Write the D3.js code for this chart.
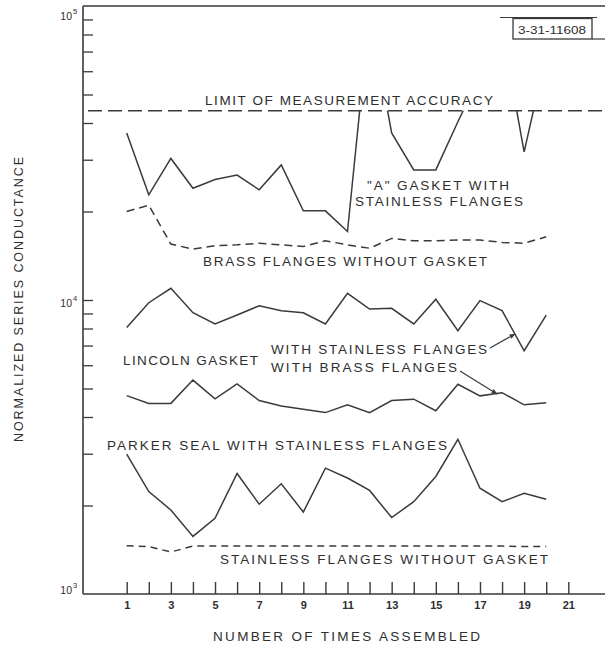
<!DOCTYPE html>
<html>
<head>
<meta charset="utf-8">
<script src="https://cdn.jsdelivr.net/npm/d3@7"></script>
<style>
  html, body { margin: 0; padding: 0; background: #fff; }
  svg { display: block; }
  text { font-family: "Liberation Sans", Arial, sans-serif; fill: #2e2e2e; }
</style>
</head>
<body>
<svg id="chart" width="605" height="647"></svg>
<script>
// ---------------- data ----------------
const assemblies = [1, 2, 3, 4, 5, 6, 7, 8, 9, 10, 11, 12, 13, 14, 15, 16, 17, 18, 19, 20];
const xTickValues = [1, 2, 3, 4, 5, 6, 7, 8, 9, 10, 11, 12, 13, 14, 15, 16, 17, 18, 19, 20, 21];
const xTickLabels = ["1", "", "3", "", "5", "", "7", "", "9", "", "11", "", "13", "", "15", "", "17", "", "19", "", "21"];
const yMinorTicks = [2000, 3000, 4000, 5000, 6000, 7000, 8000, 9000, 10000, 20000, 30000, 40000, 50000, 60000, 70000, 80000, 90000];
const yMajorTicks = [1000, 10000, 100000];
const yMajorExponents = ["3", "4", "5"];

const limitOfAccuracy = 44000;
// values beyond the limit are off scale (clipped at the limit line)
const aGasketStainless = [37000, 22800, 30300, 24000, 25700, 26600, 23700, 28800, 20100, 20100, 17100, 95000, 37000, 27700, 27700, 40400, 58000, 83000, 31900, 68700];
const brassNoGasket = [20000, 21000, 15500, 14900, 15300, 15400, 15600, 15400, 15200, 15900, 15400, 15000, 16200, 15900, 15900, 16000, 16000, 15700, 15600, 16400];
const lincolnStainless = [8070, 9790, 10960, 9050, 8290, 8890, 9560, 9200, 9050, 8290, 10540, 9320, 9370, 8290, 10060, 7860, 9950, 9200, 6720, 8890];
const lincolnBrass = [4730, 4450, 4450, 5340, 4610, 5180, 4550, 4360, 4250, 4140, 4400, 4140, 4550, 4600, 4200, 5170, 4720, 4840, 4400, 4470];
const parkerStainless = [2990, 2230, 1930, 1570, 1810, 2570, 2020, 2370, 1900, 2680, 2480, 2250, 1820, 2060, 2510, 3360, 2290, 2060, 2200, 2100];
const stainlessNoGasket = [1460, 1450, 1390, 1455, 1455, 1455, 1455, 1455, 1455, 1455, 1455, 1455, 1455, 1455, 1455, 1455, 1455, 1455, 1450, 1450];

const xTitle = "NUMBER OF TIMES ASSEMBLED";
const yTitle = "NORMALIZED SERIES CONDUCTANCE";
const stampText = "3-31-11608";

// ---------------- layout ----------------
const frame = { left: 83, top: 6, right: 605, bottom: 594 };
const ink = "#3a3a3a";
const svg = d3.select("#chart");

const x = d3.scaleLinear().domain([1, 21]).range([126.7, 568.3]);
const y = d3.scaleLog().domain([1000, 100000]).range([frame.bottom, frame.top]);

// frame lines (top border, left axis, bottom axis)
svg.append("line").attr("x1", frame.left).attr("x2", frame.right)
  .attr("y1", frame.top).attr("y2", frame.top)
  .attr("stroke", ink).attr("stroke-width", 1.4);
svg.append("line").attr("x1", frame.left).attr("x2", frame.left)
  .attr("y1", frame.top).attr("y2", frame.bottom)
  .attr("stroke", ink).attr("stroke-width", 1.6);
svg.append("line").attr("x1", frame.left).attr("x2", frame.right)
  .attr("y1", frame.bottom).attr("y2", frame.bottom)
  .attr("stroke", ink).attr("stroke-width", 1.6);

// x axis ticks (pointing up, inside)
const xAxis = d3.axisBottom(x).tickValues(xTickValues)
  .tickSizeInner(-12).tickSizeOuter(0).tickPadding(7)
  .tickFormat((d, i) => xTickLabels[i]);
const gx = svg.append("g").attr("transform", `translate(0,${frame.bottom})`).call(xAxis);
gx.select(".domain").remove();
gx.selectAll(".tick line").attr("stroke", ink).attr("stroke-width", 1.4);
gx.selectAll(".tick text").attr("fill", "#2e2e2e").attr("font-size", 11)
  .attr("font-weight", "bold").attr("font-family", "Liberation Sans, Arial, sans-serif");

// y axis ticks (pointing right, inside)
const yAxis = d3.axisLeft(y).tickValues(yMinorTicks).tickSizeInner(-10).tickSizeOuter(0).tickFormat("");
const gy = svg.append("g").attr("transform", `translate(${frame.left},0)`).call(yAxis);
gy.select(".domain").remove();
gy.selectAll(".tick line").attr("stroke", ink).attr("stroke-width", 1.3);

// y major labels 10^n
const labelDy = [0, 7, 14];
yMajorTicks.forEach((v, i) => {
  svg.append("text").attr("x", 72).attr("y", y(v) + labelDy[i])
    .attr("text-anchor", "end").attr("font-size", 10.5).text("10");
  svg.append("text").attr("x", 73).attr("y", y(v) + labelDy[i] - 6)
    .attr("font-size", 7.5).text(yMajorExponents[i]);
});

// axis titles
svg.append("text").attr("x", 213).attr("y", 641)
  .attr("font-size", 13.5).attr("textLength", 267).attr("lengthAdjust", "spacing")
  .text(xTitle);
svg.append("text").attr("transform", "translate(23,442) rotate(-90)")
  .attr("font-size", 12.5).attr("textLength", 285).attr("lengthAdjust", "spacing")
  .attr("fill", "#444").text(yTitle);

// stamp box
svg.append("line").attr("x1", 500).attr("x2", 597).attr("y1", 17.5).attr("y2", 17.5)
  .attr("stroke", ink).attr("stroke-width", 1.2);
svg.append("rect").attr("x", 513).attr("y", 18.5).attr("width", 79).attr("height", 20.5)
  .attr("fill", "none").attr("stroke", ink).attr("stroke-width", 1.3);
svg.append("line").attr("x1", 592).attr("x2", 605).attr("y1", 39).attr("y2", 39)
  .attr("stroke", ink).attr("stroke-width", 1.2);
svg.append("text").attr("x", 518).attr("y", 34).attr("font-size", 11.5)
  .attr("textLength", 68).attr("lengthAdjust", "spacingAndGlyphs").text(stampText);

// limit of measurement accuracy
svg.append("line").attr("x1", frame.left + 5).attr("x2", frame.right)
  .attr("y1", y(limitOfAccuracy)).attr("y2", y(limitOfAccuracy))
  .attr("stroke", ink).attr("stroke-width", 1.6).attr("stroke-dasharray", "14,6");

// clip for off-scale values
svg.append("clipPath").attr("id", "belowLimit").append("rect")
  .attr("x", frame.left).attr("y", y(limitOfAccuracy))
  .attr("width", frame.right - frame.left).attr("height", frame.bottom - y(limitOfAccuracy));

const line = d3.line().x((d, i) => x(assemblies[i])).y(d => y(d));

function drawSeries(vals, dash, clip) {
  const p = svg.append("path").datum(vals).attr("d", line)
    .attr("fill", "none").attr("stroke", ink).attr("stroke-width", 1.5)
    .attr("stroke-linejoin", "miter");
  if (dash) p.attr("stroke-dasharray", dash);
  if (clip) p.attr("clip-path", "url(#belowLimit)");
  return p;
}
drawSeries(aGasketStainless, null, true);
drawSeries(brassNoGasket, "8,5", false);
drawSeries(lincolnStainless, null, false);
drawSeries(lincolnBrass, null, false);
drawSeries(parkerStainless, null, false);
drawSeries(stainlessNoGasket, "7,5", false);

// annotations
const labels = [
  { t: "LIMIT OF MEASUREMENT ACCURACY", x0: 205, x1: 493, yb: 105 },
  { t: "\"A\" GASKET WITH", x0: 367, x1: 509, yb: 190 },
  { t: "STAINLESS FLANGES", x0: 355, x1: 523, yb: 206 },
  { t: "BRASS FLANGES WITHOUT GASKET", x0: 203, x1: 487, yb: 266 },
  { t: "LINCOLN GASKET", x0: 123, x1: 258, yb: 365 },
  { t: "WITH STAINLESS FLANGES", x0: 271, x1: 487, yb: 354 },
  { t: "WITH BRASS FLANGES", x0: 271, x1: 457, yb: 372 },
  { t: "PARKER SEAL WITH STAINLESS FLANGES", x0: 107, x1: 447, yb: 450 },
  { t: "STAINLESS FLANGES WITHOUT GASKET", x0: 220, x1: 548, yb: 564 }
];
labels.forEach(l => {
  svg.append("text").attr("x", l.x0).attr("y", l.yb).attr("font-size", 13.5)
    .attr("textLength", l.x1 - l.x0).attr("lengthAdjust", "spacing").text(l.t);
});

// arrows
const defs = svg.append("defs");
defs.append("marker").attr("id", "arrow").attr("viewBox", "0 0 10 10")
  .attr("refX", 9).attr("refY", 5).attr("markerWidth", 7).attr("markerHeight", 6)
  .attr("orient", "auto").attr("markerUnits", "userSpaceOnUse")
  .append("path").attr("d", "M0,1 L10,5 L0,9 Z").attr("fill", ink);
[[490, 348, 515, 334], [460, 371, 497, 394]].forEach(a => {
  svg.append("line").attr("x1", a[0]).attr("y1", a[1]).attr("x2", a[2]).attr("y2", a[3])
    .attr("stroke", ink).attr("stroke-width", 1.2).attr("marker-end", "url(#arrow)");
});
</script>
</body>
</html>
